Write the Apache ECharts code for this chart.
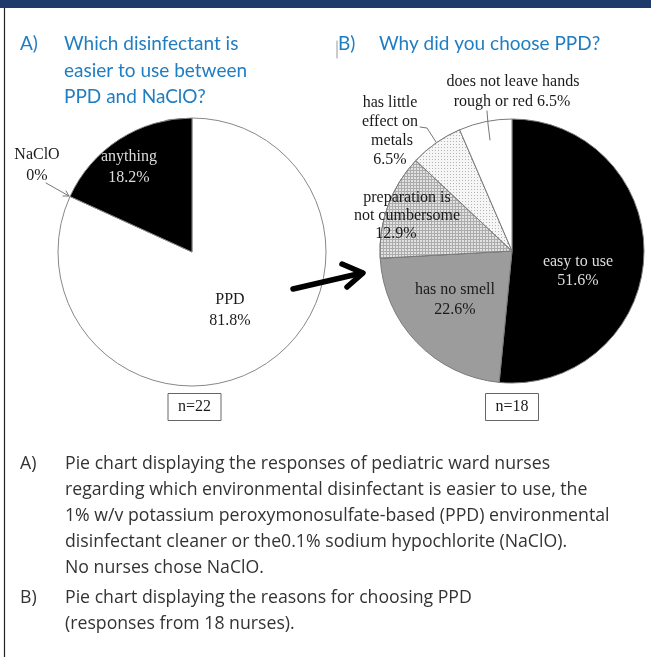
<!DOCTYPE html>
<html>
<head>
<meta charset="utf-8">
<script src="https://cdn.jsdelivr.net/npm/echarts@6/dist/echarts.min.js"></script>
<style>
  html, body { margin: 0; padding: 0; background: #fff; }
  #main { width: 651px; height: 657px; }
</style>
</head>
<body>
<div id="main"></div>
<script>
// panel A: which disinfectant is easier to use
const pieANames = ['PPD', 'NaClO', 'anything'];
const pieAValues = [81.8, 0, 18.2];
// panel B: why PPD was chosen
const pieBNames = ['easy to use', 'has no smell', 'preparation is not cumbersome',
  'has little effect on metals', 'does not leave hands rough or red'];
const pieBValues = [51.6, 22.6, 12.9, 6.5, 6.5];
const sampleSizes = [22, 18];

const titleA = ['Which disinfectant is', 'easier to use between', 'PPD and NaClO?'];
const titleB = ['Why did you choose PPD?'];
const captionA = [
  'Pie chart displaying the responses of pediatric ward nurses',
  'regarding which environmental disinfectant is easier to use, the',
  '1% w/v potassium peroxymonosulfate-based (PPD) environmental',
  'disinfectant cleaner or the0.1% sodium hypochlorite (NaClO).',
  'No nurses chose NaClO.'
];
const captionB = ['Pie chart displaying the reasons for choosing PPD', '(responses from 18 nurses).'];

const BLUE = '#1f7dc1';
const SERIF = '"Liberation Serif", "DejaVu Serif", serif';
const SANS = 'Lato, "Open Sans", sans-serif';
const CAP = '"Open Sans", Lato, sans-serif';

const chart = echarts.init(document.getElementById('main'));

function txt(s, x, y, font, fill, align) {
  return {
    type: 'text', x: x, y: y, z: 100, silent: true,
    style: { text: s, font: font, fill: fill || '#222',
      align: align || 'center', verticalAlign: 'middle',
      textAlign: align || 'center', textVerticalAlign: 'middle' }
  };
}
function pct(v) { return v.toFixed(1).replace(/\.0$/, '') + '%'; }
function line(pts, color, w) {
  return { type: 'polyline', z: 100, silent: true, shape: { points: pts },
    style: { stroke: color, lineWidth: w, fill: null, lineCap: 'round', lineJoin: 'round' } };
}

const g = [];
// frame
g.push({ type: 'rect', z: 100, shape: { x: 0, y: 0, width: 651, height: 8 }, style: { fill: '#1e3a6a' } });
g.push(line([[4.5, 8], [4.5, 657]], '#222', 1.2));

// titles
g.push(txt('A)', 20, 44, '19px ' + SANS, BLUE, 'left'));
titleA.forEach((s, i) => g.push(txt(s, 64, 44 + i * 26.5, '19px ' + SANS, BLUE, 'left')));
g.push(txt('B)', 338, 44, '19px ' + SANS, BLUE, 'left'));
g.push(txt(titleB[0], 379, 44, '19px ' + SANS, BLUE, 'left'));
g.push(line([[337, 41], [337, 58]], '#999', 1));

// pie A labels
const F = '16px ' + SERIF;
const INK = '#1a1a1a';
g.push(txt(pieANames[0], 230, 300, F, INK));
g.push(txt(pct(pieAValues[0]), 230, 321, F, INK));
g.push(txt(pieANames[2], 129, 157, F, '#ddd'));
g.push(txt(pct(pieAValues[2]), 129, 178, F, '#ddd'));
g.push(txt(pieANames[1], 37, 155, F, INK));
g.push(txt(pct(pieAValues[1]), 37, 176, F, INK));
g.push(line([[46, 183], [69, 196]], '#777', 1));
g.push(line([[63, 196], [69, 196], [66, 191]], '#777', 1));

// pie B labels
g.push(txt(pieBNames[0], 578, 262, F, '#ddd'));
g.push(txt(pct(pieBValues[0]), 578, 281, F, '#ddd'));
g.push(txt(pieBNames[1], 455, 290, F, INK));
g.push(txt(pct(pieBValues[1]), 455, 310, F, INK));
g.push(txt('preparation is', 407, 198, F, INK));
g.push(txt('not cumbersome', 407, 216, F, INK));
g.push(txt(pct(pieBValues[2]), 396, 234, F, INK));
g.push(txt('has little', 390, 103, F, INK));
g.push(txt('effect on', 390, 122, F, INK));
g.push(txt('metals', 392, 141, F, INK));
g.push(txt(pct(pieBValues[3]), 390, 160, F, INK));
g.push(line([[420, 127], [427, 128], [436, 142]], '#777', 1));
g.push(txt('does not leave hands', 513, 82, F, INK));
g.push(txt('rough or red ' + pct(pieBValues[4]), 512, 102, F, INK));
g.push(line([[487, 111], [488, 124], [490, 140]], '#777', 1));

// arrow between the pies
g.push(line([[293, 289], [362, 273]], '#000', 5.5));
g.push(line([[342, 264], [363, 273], [347, 287]], '#000', 5.5));

// n boxes
[[194.5, sampleSizes[0]], [512, sampleSizes[1]]].forEach(([cx, n]) => {
  g.push({ type: 'rect', z: 100, silent: true, shape: { x: cx - 26.5, y: 393.5, width: 53, height: 27 },
    style: { fill: '#fff', stroke: '#666', lineWidth: 1 } });
  g.push(txt('n=' + n, cx, 407, F, INK));
});

// captions
const CF = '17.7px ' + CAP;
g.push(txt('A)', 20, 464, CF, '#333', 'left'));
captionA.forEach((s, i) => g.push(txt(s, 65, 464 + i * 26, CF, '#333', 'left')));
g.push(txt('B)', 20, 598, CF, '#333', 'left'));
captionB.forEach((s, i) => g.push(txt(s, 65, 598 + i * 26, CF, '#333', 'left')));

const colorsA = ['#ffffff', '#ffffff', '#000000'];
const styleB = [
  { color: '#000000' },
  { color: '#9c9c9c' },
  { color: '#cfcfcf', decal: { symbol: 'rect', symbolSize: 1, dashArrayX: [2, 1], dashArrayY: [2, 1],
      color: '#e2e2e2', backgroundColor: '#ababab' } },
  { color: '#eeeeee', decal: { symbol: 'rect', symbolSize: 1, dashArrayX: [1, 2], dashArrayY: [1, 2],
      color: '#b4b4b4', backgroundColor: '#f6f6f6' } },
  { color: '#ffffff' }
];

chart.setOption({
  animation: false,
  backgroundColor: '#fff',
  series: [
    {
      type: 'pie', center: [192, 252], radius: 134, startAngle: 90, clockwise: true,
      label: { show: false }, labelLine: { show: false }, silent: true,
      data: pieANames.map((n, i) => ({ name: n, value: pieAValues[i],
        itemStyle: { color: colorsA[i], borderColor: '#888', borderWidth: pieAValues[i] ? 1 : 0 } }))
    },
    {
      type: 'pie', center: [512, 251], radius: 132, startAngle: 90, clockwise: true,
      label: { show: false }, labelLine: { show: false }, silent: true,
      data: pieBNames.map((n, i) => ({ name: n, value: pieBValues[i],
        itemStyle: Object.assign({ borderColor: '#7a7a7a', borderWidth: 1 }, styleB[i]) }))
    }
  ],
  graphic: { elements: g }
});
</script>
</body>
</html>
